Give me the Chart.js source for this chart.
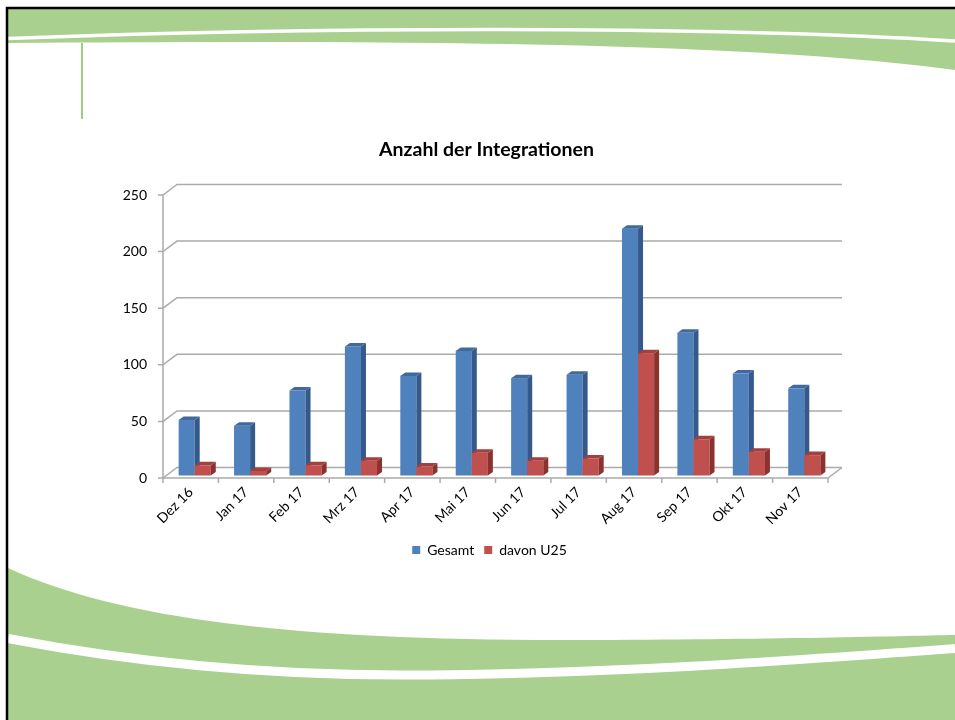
<!DOCTYPE html>
<html>
<head>
<meta charset="utf-8">
<script src="https://cdn.jsdelivr.net/npm/chart.js@4.4.1/dist/chart.umd.min.js"></script>
<style>
  html, body { margin: 0; padding: 0; background: #fff; }
  #wrap { width: 955px; height: 720px; position: relative; }
</style>
</head>
<body>
<div id="wrap"><canvas id="chart"></canvas></div>
<script>
// ========== DATA ==========
const months = ['Dez 16', 'Jan 17', 'Feb 17', 'Mrz 17', 'Apr 17', 'Mai 17', 'Jun 17', 'Jul 17', 'Aug 17', 'Sep 17', 'Okt 17', 'Nov 17'];
const gesamt = [49, 44, 75, 114, 88, 110, 86, 89, 218, 126, 90, 77];
const davonU25 = [9, 4, 9, 13, 8, 20, 13, 15, 108, 32, 21, 18];
const yTicks = [0, 50, 100, 150, 200, 250];

// ========== LOOK ==========
const GREEN = '#a9d08e';
const FACES = [
  { front: '#4f81bd', side: '#34598a', top: '#41699d' },
  { front: '#c0504d', side: '#8b3230', top: '#a3403d' }
];
const WALL = { x: 14, y: -10.5 };      // back wall offset
const SHIFT = { x: 4, y: -2.5 };       // bars stand a bit behind the front edge
const BAR_DEPTH = { x: 5, y: -3.5 };

function poly(ctx, pts) {
  ctx.beginPath();
  ctx.moveTo(pts[0][0], pts[0][1]);
  pts.slice(1).forEach(p => ctx.lineTo(p[0], p[1]));
  ctx.closePath();
  ctx.fill();
}

// slide decoration (green swooshes, border)
const slideBg = {
  id: 'slideBg',
  afterLayout(chart) {
    // title and legend sit a little right of the canvas centre
    chart.titleBlock.left += 11;
    chart.titleBlock.right += 11;
    chart.legend.left += 14;
    chart.legend.right += 14;
  },
  beforeDraw(chart) {
    const ctx = chart.ctx;
    ctx.save();
    ctx.fillStyle = '#fff';
    ctx.fillRect(0, 0, 955, 720);

    ctx.fillStyle = GREEN;
    ctx.beginPath();
    ctx.moveTo(8, 9);
    ctx.lineTo(955, 9);
    ctx.lineTo(955, 70);
    ctx.bezierCurveTo(750, 42, 400, 40, 8, 43);
    ctx.closePath();
    ctx.fill();

    ctx.strokeStyle = '#fff';
    ctx.lineWidth = 3.5;
    ctx.beginPath();
    ctx.moveTo(8, 38.5);
    ctx.bezierCurveTo(300, 27, 700, 25, 955, 41);
    ctx.stroke();

    ctx.beginPath();
    ctx.moveTo(8, 568);
    ctx.bezierCurveTo(120, 620, 300, 640, 560, 640);
    ctx.bezierCurveTo(750, 640, 900, 636, 955, 635);
    ctx.lineTo(955, 720);
    ctx.lineTo(8, 720);
    ctx.closePath();
    ctx.fill();

    ctx.lineWidth = 9;
    ctx.beginPath();
    ctx.moveTo(8, 638.5);
    ctx.bezierCurveTo(120, 660, 250, 675, 400, 675);
    ctx.bezierCurveTo(600, 675, 800, 660, 955, 648.5);
    ctx.stroke();

    ctx.strokeStyle = '#9fcd87';
    ctx.lineWidth = 2;
    ctx.beginPath();
    ctx.moveTo(82, 43);
    ctx.lineTo(82, 119);
    ctx.stroke();

    ctx.strokeStyle = '#000';
    ctx.lineWidth = 2.5;
    ctx.beginPath();
    ctx.moveTo(7, 720);
    ctx.lineTo(7, 8);
    ctx.lineTo(955, 8);
    ctx.stroke();
    ctx.restore();
  }
};

function draw3dBar(ctx, bar, c) {
  const { x, y, base, width } = bar.getProps(['x', 'y', 'base', 'width'], true);
  const l = x - width / 2 + SHIFT.x, r = x + width / 2 + SHIFT.x;
  const t = y + SHIFT.y, b = base + SHIFT.y;
  const dx = BAR_DEPTH.x, dy = BAR_DEPTH.y;
  ctx.fillStyle = c.front;
  ctx.fillRect(l, t, r - l, b - t);
  ctx.fillStyle = c.side;
  poly(ctx, [[r, t], [r + dx, t + dy], [r + dx, b + dy], [r, b]]);
  ctx.fillStyle = c.top;
  poly(ctx, [[l, t], [l + dx, t + dy], [r + dx, t + dy], [r, t]]);
}

// walls, floor and the 3d columns
const box3d = {
  id: 'box3d',
  beforeDatasetsDraw(chart) {
    const { ctx, chartArea: a, scales: { x, y } } = chart;
    ctx.save();
    ctx.strokeStyle = '#ababab';
    ctx.lineWidth = 1.5;
    yTicks.forEach(v => {
      const py = y.getPixelForValue(v);
      ctx.beginPath();
      ctx.moveTo(a.left - 5, py);
      ctx.lineTo(a.left, py);
      ctx.lineTo(a.left + WALL.x, py + WALL.y);
      ctx.lineTo(a.right + WALL.x, py + WALL.y);
      ctx.stroke();
    });
    ctx.beginPath();
    ctx.moveTo(a.left, a.top);
    ctx.lineTo(a.left, a.bottom);
    ctx.lineTo(a.right, a.bottom);
    ctx.lineTo(a.right + WALL.x, a.bottom + WALL.y);
    ctx.stroke();
    for (let i = 0; i <= months.length; i++) {
      const px = x.getPixelForValue(i - 0.5);
      ctx.beginPath();
      ctx.moveTo(px, a.bottom);
      ctx.lineTo(px, a.bottom + 5);
      ctx.stroke();
    }

    const metas = [chart.getDatasetMeta(0), chart.getDatasetMeta(1)];
    months.forEach((m, i) => {
      metas.forEach((meta, d) => draw3dBar(ctx, meta.data[i], FACES[d]));
    });
    ctx.restore();
    return false;
  }
};

Chart.defaults.font.family = 'Lato, "Open Sans", sans-serif';
Chart.defaults.color = '#000';

new Chart(document.getElementById('chart'), {
  type: 'bar',
  data: {
    labels: months,
    datasets: [
      { label: 'Gesamt', data: gesamt, backgroundColor: FACES[0].front },
      { label: 'davon U25', data: davonU25, backgroundColor: FACES[1].front }
    ]
  },
  options: {
    responsive: true,
    maintainAspectRatio: false,
    animation: false,
    layout: { padding: { left: 123, right: 127, top: 0, bottom: 153 } },
    datasets: { bar: { categoryPercentage: 0.58, barPercentage: 1.0 } },
    plugins: {
      title: {
        display: true,
        text: 'Anzahl der Integrationen',
        font: { size: 19.5, weight: 'bold' },
        color: '#000',
        padding: { top: 138.3, bottom: 33.3 }
      },
      legend: {
        position: 'bottom',
        labels: { boxWidth: 8, boxHeight: 8, font: { size: 14 }, color: '#000', padding: 10 }
      },
      tooltip: { enabled: false }
    },
    scales: {
      x: {
        grid: { display: false, drawTicks: false },
        border: { display: false },
        ticks: { maxRotation: 45, minRotation: 45, padding: 6, font: { size: 14 } },
        afterFit: s => { s.height = 55; }
      },
      y: {
        min: 0,
        max: 250,
        grid: { display: false, drawTicks: false, tickLength: 0 },
        border: { display: false },
        ticks: { stepSize: 50, padding: 16, font: { size: 14 } },
        afterBuildTicks: s => { s.ticks = yTicks.map(v => ({ value: v })); },
        afterFit: s => { s.width = 40; }
      }
    }
  },
  plugins: [slideBg, box3d]
});
</script>
</body>
</html>
